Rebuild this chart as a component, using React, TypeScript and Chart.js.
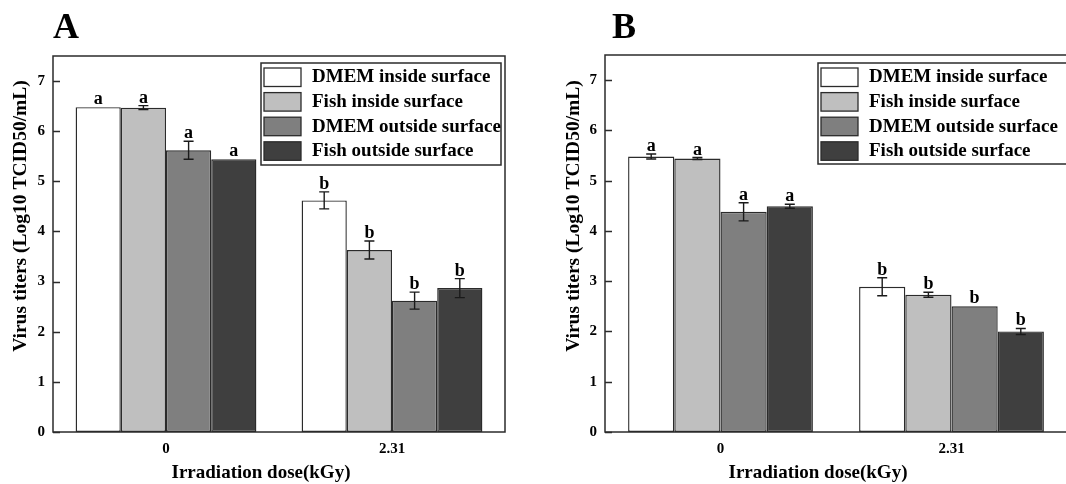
import React, { useEffect, useRef } from "react";
import { Chart, registerables } from "chart.js";
Chart.register(...registerables);

const categories = ["0", "2.31"];
const seriesNames = ["DMEM inside surface", "Fish inside surface", "DMEM outside surface", "Fish outside surface"];
const seriesColors = ["#ffffff", "#bfbfbf", "#7f7f7f", "#3f3f3f"];
const yTickValues = [0, 1, 2, 3, 4, 5, 6, 7];
const yTitle = "Virus titers (Log10 TCID50/mL)";
const xTitle = "Irradiation dose(kGy)";

// Panel A
const aDmemInside = [6.48, 4.62];
const aFishInside = [6.47, 3.63];
const aDmemOutside = [5.62, 2.62];
const aFishOutside = [5.44, 2.87];
const aDmemInsideErr = [0, 0.17];
const aFishInsideErr = [0.04, 0.18];
const aDmemOutsideErr = [0.18, 0.17];
const aFishOutsideErr = [0, 0.19];

// Panel B
const bDmemInside = [5.48, 2.89];
const bFishInside = [5.44, 2.73];
const bDmemOutside = [4.38, 2.5];
const bFishOutside = [4.49, 2.0];
const bDmemInsideErr = [0.05, 0.18];
const bFishInsideErr = [0.02, 0.05];
const bDmemOutsideErr = [0.18, 0];
const bFishOutsideErr = [0.04, 0.06];

const groupLetters = ["a", "b"];

const FONT = "'Liberation Serif', 'Times New Roman', serif";
const LINE = "#2b2b2b";

type PanelProps = {
  label: string;
  left: number;
  width: number;
  series: number[][];
  errors: number[][];
  layout: { yWidth: number; padRight: number; top: number; xHeight: number };
  legendBox: { x: number; y: number; w: number; h: number };
  yTitlePos: { x: number; y: number };
  xTitlePos: { x: number; y: number };
  labelPos: { x: number; y: number };
};

function Panel(p: PanelProps) {
  const ref = useRef<HTMLCanvasElement | null>(null);
  useEffect(() => {
    if (!ref.current) return;
    const decor = {
      id: "decor",
      afterDatasetsDraw(chart: any) {
        const ctx = chart.ctx as CanvasRenderingContext2D;
        const y = chart.scales.y;
        const ca = chart.chartArea;
        ctx.save();
        // error bars and letters
        p.series.forEach((vals, di) => {
          const meta = chart.getDatasetMeta(di);
          vals.forEach((v, i) => {
            const bar = meta.data[i];
            const e = p.errors[di][i];
            const cx = bar.x;
            let topPix = y.getPixelForValue(v);
            if (e > 0) {
              const yHi = y.getPixelForValue(v + e);
              const yLo = y.getPixelForValue(v - e);
              ctx.strokeStyle = "#1a1a1a";
              ctx.lineWidth = 1.4;
              ctx.beginPath();
              ctx.moveTo(cx, yHi);
              ctx.lineTo(cx, yLo);
              ctx.moveTo(cx - 5, yHi);
              ctx.lineTo(cx + 5, yHi);
              ctx.moveTo(cx - 5, yLo);
              ctx.lineTo(cx + 5, yLo);
              ctx.stroke();
              topPix = yHi;
            }
            ctx.fillStyle = "#000";
            ctx.font = `bold 18px ${FONT}`;
            ctx.textAlign = "center";
            ctx.textBaseline = "alphabetic";
            ctx.fillText(groupLetters[i], cx, topPix - 3);
          });
        });
        // frame
        ctx.strokeStyle = LINE;
        ctx.lineWidth = 1.5;
        ctx.strokeRect(ca.left, ca.top, ca.right - ca.left, ca.bottom - ca.top);
        // inward y ticks
        ctx.beginPath();
        yTickValues.forEach((t) => {
          const py = Math.round(y.getPixelForValue(t)) + 0.5;
          ctx.moveTo(ca.left, py);
          ctx.lineTo(ca.left + 7, py);
        });
        ctx.stroke();
        // legend
        const lb = p.legendBox;
        ctx.fillStyle = "#ffffff";
        ctx.fillRect(lb.x, lb.y, lb.w, lb.h);
        ctx.strokeStyle = LINE;
        ctx.lineWidth = 1.5;
        ctx.strokeRect(lb.x, lb.y, lb.w, lb.h);
        seriesNames.forEach((name, i) => {
          const rowY = lb.y + 5 + i * 24.6;
          ctx.fillStyle = seriesColors[i];
          ctx.fillRect(lb.x + 3, rowY, 37, 18.5);
          ctx.strokeStyle = LINE;
          ctx.lineWidth = 1.3;
          ctx.strokeRect(lb.x + 3, rowY, 37, 18.5);
          ctx.fillStyle = "#000";
          ctx.font = `bold 19px ${FONT}`;
          ctx.textAlign = "left";
          ctx.textBaseline = "middle";
          ctx.fillText(name, lb.x + 51, rowY + 9.5);
        });
        // axis titles
        ctx.fillStyle = "#000";
        ctx.font = `bold 19px ${FONT}`;
        ctx.textAlign = "center";
        ctx.textBaseline = "middle";
        ctx.fillText(xTitle, p.xTitlePos.x, p.xTitlePos.y);
        ctx.save();
        ctx.translate(p.yTitlePos.x, p.yTitlePos.y);
        ctx.rotate(-Math.PI / 2);
        ctx.font = `bold 19.5px ${FONT}`;
        ctx.fillText(yTitle, 0, 0);
        ctx.restore();
        // panel label
        ctx.font = `bold 36px ${FONT}`;
        ctx.textAlign = "left";
        ctx.textBaseline = "alphabetic";
        ctx.fillText(p.label, p.labelPos.x, p.labelPos.y);
        ctx.restore();
      },
    };
    const chart = new Chart(ref.current, {
      type: "bar",
      data: {
        labels: categories,
        datasets: p.series.map((vals, i) => ({
          label: seriesNames[i],
          data: vals,
          backgroundColor: seriesColors[i],
          borderColor: LINE,
          borderWidth: 1.4,
          borderSkipped: false,
          categoryPercentage: 0.8,
          barPercentage: 1.0,
        })),
      },
      options: {
        responsive: false,
        animation: false,
        devicePixelRatio: 1,
        layout: { padding: { left: 0, top: p.layout.top, right: p.layout.padRight, bottom: 0 } },
        plugins: { legend: { display: false }, tooltip: { enabled: false } },
        scales: {
          x: {
            grid: { display: false, drawTicks: false },
            border: { display: false },
            ticks: { color: "#000", font: { family: FONT, size: 15, weight: "bold" }, padding: 8 },
            afterFit: (s: any) => {
              s.height = p.layout.xHeight;
            },
          },
          y: {
            min: 0,
            max: 7.5,
            grid: { display: false, drawTicks: false },
            border: { display: false },
            ticks: { stepSize: 1, color: "#000", font: { family: FONT, size: 15, weight: "bold" }, padding: 8 },
            afterBuildTicks: (s: any) => {
              s.ticks = s.ticks.filter((t: any) => yTickValues.includes(t.value));
            },
            afterFit: (s: any) => {
              s.width = p.layout.yWidth;
            },
          },
        },
      },
      plugins: [decor],
    } as any);
    return () => chart.destroy();
  }, []);
  return (
    <canvas
      ref={ref}
      width={p.width}
      height={484}
      style={{ position: "absolute", left: p.left, top: 0, width: p.width, height: 484 }}
    />
  );
}

export default function App() {
  useEffect(() => {
    document.body.style.margin = "0";
  }, []);
  return (
    <div style={{ position: "fixed", left: 0, top: 0, width: 1066, height: 484, overflow: "hidden", background: "#fff" }}>
      <Panel
        label="A"
        left={0}
        width={540}
        series={[aDmemInside, aFishInside, aDmemOutside, aFishOutside]}
        errors={[aDmemInsideErr, aFishInsideErr, aDmemOutsideErr, aFishOutsideErr]}
        layout={{ yWidth: 53, padRight: 35, top: 56, xHeight: 52 }}
        legendBox={{ x: 261, y: 63, w: 240, h: 102 }}
        yTitlePos={{ x: 21, y: 216 }}
        xTitlePos={{ x: 261, y: 473 }}
        labelPos={{ x: 53, y: 38 }}
      />
      <Panel
        label="B"
        left={540}
        width={540}
        series={[bDmemInside, bFishInside, bDmemOutside, bFishOutside]}
        errors={[bDmemInsideErr, bFishInsideErr, bDmemOutsideErr, bFishOutsideErr]}
        layout={{ yWidth: 65, padRight: 13, top: 55, xHeight: 52 }}
        legendBox={{ x: 278, y: 63, w: 250, h: 101 }}
        yTitlePos={{ x: 34, y: 216 }}
        xTitlePos={{ x: 278, y: 473 }}
        labelPos={{ x: 72, y: 38 }}
      />
    </div>
  );
}
